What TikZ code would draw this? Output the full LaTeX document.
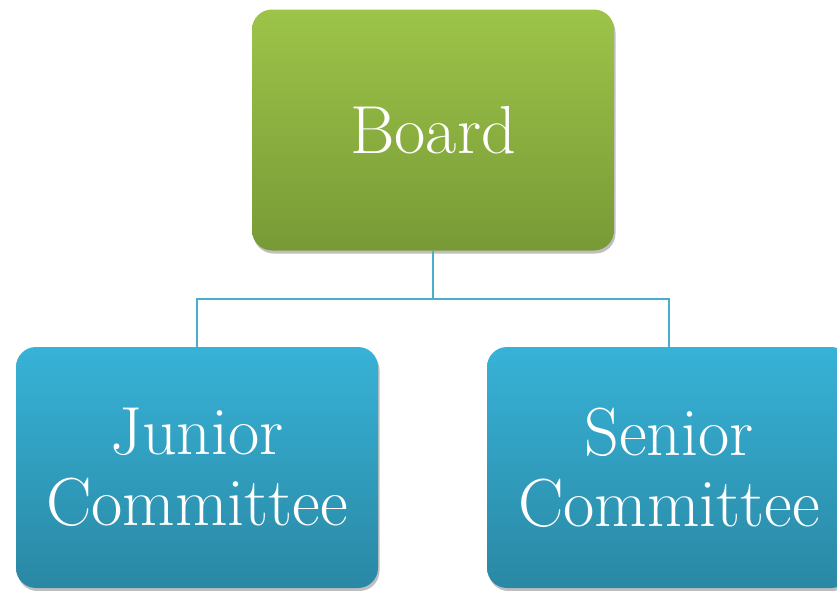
\documentclass[tikz,border=0pt]{standalone}
\usepackage{xcolor}
\usepackage{tikz}
\usetikzlibrary{
  positioning,
  calc,
  shadows
}

\definecolor{boardtop}{HTML}{9DC449}
\definecolor{boardbot}{HTML}{789A36}
\definecolor{comtop}{HTML}{37B2D7}
\definecolor{combot}{HTML}{2A88A4}
\definecolor{linkcol}{HTML}{4BAFCB}

\begin{document}
\begin{tikzpicture}[x=1pt,y=-1pt,
  box/.style={rounded corners=20pt,minimum width=362pt,minimum height=241pt,
    inner sep=0pt,align=center,text=white,
    font=\fontsize{68}{71}\selectfont,
    drop shadow={shadow xshift=1.5pt,shadow yshift=-3pt,opacity=0.25,fill=black}},
  greenbox/.style={box,top color=boardtop,bottom color=boardbot},
  bluebox/.style={box,top color=comtop,bottom color=combot},
  link/.style={draw=linkcol,line width=1.5pt}]
  \useasboundingbox (0,0) rectangle (837,590);
  % 箱
  \node[greenbox] (board) at (433,130) {Board};
  \node[bluebox] (junior) at (197,467.5) {Junior\\Committee};
  \node[bluebox,minimum width=364pt] (senior) at (669,467.5) {Senior\\Committee};
  % 分岐点
  \coordinate (hub) at (433,299);
  % 接続線
  \draw[link] (board.south) -- (hub) -| (junior.north);
  \draw[link] (hub) -| (senior.north);
\end{tikzpicture}
\end{document}
